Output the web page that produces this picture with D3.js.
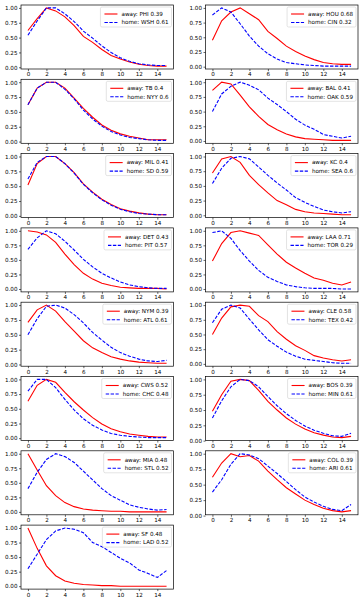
<!DOCTYPE html>
<html><head><meta charset="utf-8">
<script src="https://cdn.jsdelivr.net/npm/d3@7/dist/d3.min.js"></script>
<style>body{margin:0;background:#fff}svg{display:block;font-family:"DejaVu Sans",sans-serif}</style>
</head><body><svg id="c" width="363" height="600"></svg>
<script>
const xVals=[0,1,2,3,4,5,6,7,8,9,10,11,12,13,14,15];
const xTicks=[0,2,4,6,8,10,12,14];
const yTicks=[0,0.25,0.5,0.75,1];
const awayTeams=["PHI","HOU","TB","BAL","MIL","KC","DET","LAA","NYM","CLE","CWS","BOS","MIA","COL","SF"];
const homeTeams=["WSH","CIN","NYY","OAK","SD","SEA","PIT","TOR","ATL","TEX","CHC","MIN","STL","ARI","LAD"];
const awayProb=["0.39","0.68","0.4","0.41","0.41","0.4","0.43","0.71","0.39","0.58","0.52","0.39","0.48","0.39","0.48"];
const homeProb=["0.61","0.32","0.6","0.59","0.59","0.6","0.57","0.29","0.61","0.42","0.48","0.61","0.52","0.61","0.52"];
const awaySeries=[
[0.62,0.82,1.0,0.95,0.85,0.7,0.52,0.42,0.3,0.2,0.14,0.09,0.05,0.03,0.02,0.02],
[0.45,0.78,0.93,1.0,0.9,0.8,0.6,0.48,0.35,0.26,0.18,0.12,0.07,0.05,0.04,0.04],
[0.62,0.9,1.0,1.0,0.9,0.73,0.56,0.41,0.28,0.19,0.13,0.09,0.06,0.03,0.03,0.03],
[0.86,1.0,0.97,0.78,0.58,0.42,0.28,0.19,0.12,0.07,0.04,0.03,0.02,0.01,0.01,0.01],
[0.52,0.88,1.0,1.0,0.88,0.73,0.54,0.4,0.28,0.19,0.12,0.08,0.05,0.03,0.02,0.02],
[0.72,0.96,1.0,0.9,0.68,0.52,0.38,0.25,0.18,0.1,0.06,0.04,0.03,0.02,0.01,0.01],
[1.0,0.98,0.93,0.8,0.6,0.42,0.27,0.17,0.1,0.06,0.03,0.02,0.01,0.01,0.01,0.0],
[0.48,0.78,0.97,1.0,0.96,0.92,0.76,0.6,0.46,0.36,0.27,0.19,0.15,0.1,0.07,0.12],
[0.71,0.92,1.0,0.9,0.72,0.56,0.4,0.28,0.2,0.13,0.09,0.06,0.04,0.03,0.02,0.02],
[0.5,0.78,0.97,1.0,0.98,0.82,0.72,0.55,0.42,0.31,0.23,0.14,0.1,0.07,0.05,0.07],
[0.63,0.9,1.0,0.95,0.78,0.62,0.48,0.35,0.24,0.16,0.11,0.07,0.05,0.03,0.02,0.02],
[0.48,0.75,0.97,1.0,0.98,0.82,0.64,0.5,0.37,0.27,0.19,0.13,0.09,0.06,0.05,0.07],
[1.0,0.72,0.45,0.28,0.16,0.09,0.05,0.03,0.02,0.01,0.01,0.0,0.0,0.0,0.0,0.0],
[0.62,0.85,1.0,0.95,0.97,0.88,0.72,0.58,0.45,0.35,0.25,0.18,0.12,0.08,0.06,0.08],
[1.0,0.65,0.35,0.18,0.09,0.05,0.03,0.02,0.01,0.01,0.0,0.0,0.0,0.0,0.0,0.0]];
const homeSeries=[
[0.54,0.78,1.0,1.0,0.9,0.77,0.61,0.49,0.36,0.25,0.16,0.1,0.06,0.04,0.03,0.03],
[0.88,1.0,0.93,0.73,0.52,0.35,0.22,0.13,0.07,0.05,0.03,0.02,0.01,0.01,0.01,0.01],
[0.62,0.9,1.0,1.0,0.88,0.72,0.53,0.38,0.26,0.17,0.11,0.07,0.05,0.03,0.02,0.02],
[0.5,0.8,0.93,1.0,0.95,0.87,0.73,0.62,0.5,0.37,0.27,0.2,0.11,0.08,0.05,0.08],
[0.62,0.9,1.0,1.0,0.88,0.72,0.53,0.39,0.27,0.18,0.11,0.07,0.04,0.03,0.02,0.02],
[0.54,0.8,0.97,1.0,0.96,0.82,0.68,0.55,0.43,0.3,0.22,0.15,0.09,0.06,0.04,0.06],
[0.68,0.88,1.0,0.95,0.82,0.67,0.51,0.38,0.27,0.19,0.12,0.07,0.04,0.02,0.01,0.01],
[0.97,1.0,0.87,0.66,0.48,0.32,0.2,0.13,0.07,0.04,0.02,0.01,0.01,0.01,0.0,0.0],
[0.5,0.77,0.98,1.0,0.95,0.84,0.7,0.54,0.41,0.29,0.2,0.14,0.09,0.06,0.05,0.07],
[0.7,0.93,1.0,0.95,0.76,0.58,0.41,0.3,0.2,0.13,0.08,0.06,0.04,0.02,0.01,0.01],
[0.8,1.0,1.0,0.86,0.66,0.48,0.33,0.22,0.14,0.08,0.05,0.03,0.02,0.01,0.01,0.01],
[0.37,0.65,0.88,1.0,0.98,0.88,0.72,0.57,0.44,0.33,0.24,0.17,0.12,0.08,0.07,0.12],
[0.4,0.68,0.9,1.0,0.95,0.85,0.7,0.55,0.4,0.28,0.2,0.12,0.08,0.05,0.03,0.04],
[0.38,0.58,0.83,1.0,0.98,0.92,0.8,0.68,0.55,0.42,0.3,0.22,0.15,0.1,0.08,0.18],
[0.3,0.55,0.8,0.95,1.0,0.98,0.92,0.75,0.68,0.58,0.48,0.4,0.28,0.22,0.15,0.27]];

const svg=d3.select("#c");
const colX=[21,205.5], W=152.5, H=64, top0=5, pitch=74.3;
const FS=5.6;
awayTeams.forEach((at,i)=>{
  const col=i%2, row=Math.floor(i/2);
  const x0=colX[col], y0=top0+row*pitch;
  const g=svg.append("g").attr("transform",`translate(${x0},${y0})`);
  const all=awaySeries[i].concat(homeSeries[i]);
  const mn=d3.min(all), mx=d3.max(all), r=mx-mn;
  const x=d3.scaleLinear().domain([-0.75,15.75]).range([0,W]);
  const y=d3.scaleLinear().domain([mn-0.05*r,mx+0.05*r]).range([H,0]);
  const line=d3.line().x((d,j)=>x(xVals[j])).y(d=>y(d));
  g.append("path").datum(awaySeries[i]).attr("d",line).attr("fill","none").attr("stroke","#ff0000").attr("stroke-width",1.1);
  g.append("path").datum(homeSeries[i]).attr("d",line).attr("fill","none").attr("stroke","#0000ff").attr("stroke-width",1.1).attr("stroke-dasharray","3.4,1.5");
  const xa=g.append("g").attr("transform",`translate(0,${H})`).call(d3.axisBottom(x).tickValues(xTicks).tickSize(2).tickPadding(1.5).tickFormat(d3.format("d")));
  const ya=g.append("g").call(d3.axisLeft(y).tickValues(yTicks).tickSize(2).tickPadding(1.5).tickFormat(d3.format(".2f")));
  [xa,ya].forEach(a=>{a.select(".domain").remove();a.selectAll("text").attr("font-size",FS).attr("font-family","DejaVu Sans").attr("fill","#000");a.selectAll("line").attr("stroke","#000").attr("stroke-width",0.6);});
  g.append("rect").attr("width",W).attr("height",H).attr("fill","none").attr("stroke","#000").attr("stroke-width",0.7);
  const lg=g.append("g");
  const labels=[`away: ${at} ${awayProb[i]}`,`home: ${homeTeams[i]} ${homeProb[i]}`];
  const box=lg.append("rect").attr("rx",1.5).attr("fill","#fff").attr("fill-opacity",0.8).attr("stroke","#d0d0d0").attr("stroke-width",0.6);
  const texts=labels.map((t,k)=>lg.append("text").attr("x",21).attr("y",8.9+k*8.5).attr("font-size",FS).text(t));
  const tw=d3.max(texts,t=>t.node().getComputedTextLength());
  const bw=21+tw+3, bh=20;
  box.attr("width",bw).attr("height",bh);
  lg.append("line").attr("x1",4).attr("x2",17).attr("y1",7).attr("y2",7).attr("stroke","#ff0000").attr("stroke-width",1.1);
  lg.append("line").attr("x1",4).attr("x2",17).attr("y1",15.5).attr("y2",15.5).attr("stroke","#0000ff").attr("stroke-width",1.1).attr("stroke-dasharray","3.4,1.5");
  lg.attr("transform",`translate(${W-2-bw},2)`);
});
</script></body></html>
